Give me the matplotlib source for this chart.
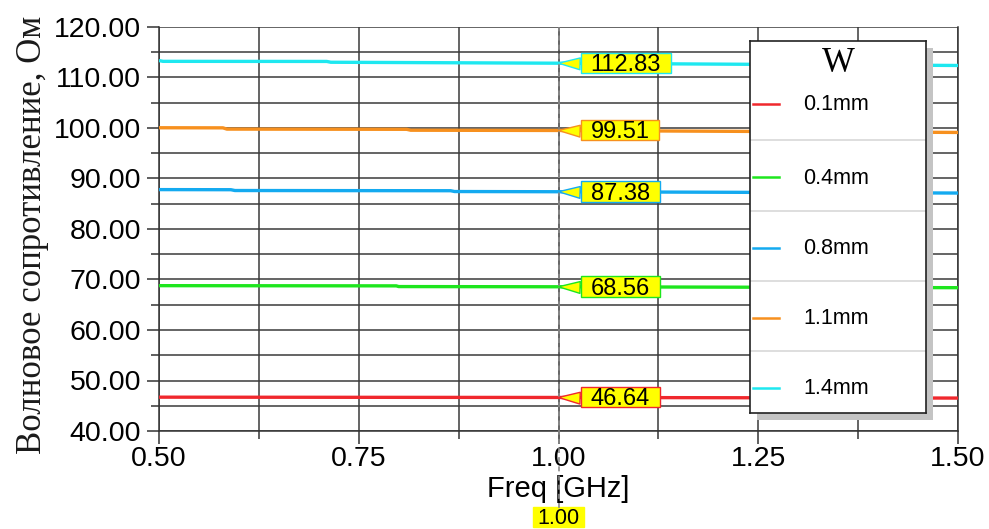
import matplotlib
matplotlib.use("Agg")
import matplotlib.pyplot as plt
from matplotlib.patches import Rectangle
from matplotlib.path import Path
import matplotlib.ticker as mticker

# ---- data ----
labels = ["0.1mm", "0.4mm", "0.8mm", "1.1mm", "1.4mm"]
colors = ["#f0282d", "#1ee61e", "#14aaf0", "#f7901e", "#1ee8f0"]
freq_r = [0.50, 1.00, 1.50]
z_r = [46.70, 46.64, 46.52]
freq_g = [0.50, 0.797, 0.80, 1.00, 1.50]
z_g = [68.78, 68.74, 68.60, 68.56, 68.38]
freq_b = [0.50, 0.59, 0.595, 0.865, 0.87, 1.00, 1.50]
z_b = [87.80, 87.78, 87.62, 87.58, 87.42, 87.38, 87.12]
freq_o = [0.50, 0.58, 0.585, 0.81, 0.815, 1.00, 1.50]
z_o = [100.05, 100.03, 99.78, 99.74, 99.56, 99.51, 99.12]
freq_c = [0.50, 0.505, 0.71, 0.715, 1.00, 1.50]
z_c = [113.35, 113.20, 113.18, 113.02, 112.83, 112.38]
marker_f = 1.00
marker_vals = [46.64, 68.56, 87.38, 99.51, 112.83]

series = [(freq_r, z_r), (freq_g, z_g), (freq_b, z_b), (freq_o, z_o), (freq_c, z_c)]

W, H = 989, 529
fig = plt.figure(figsize=(W / 100, H / 100), dpi=100)
fig.patch.set_facecolor("white")
ax = fig.add_axes([159 / W, 1 - 431 / H, 799 / W, 404 / H])

sans = ["Liberation Sans", "DejaVu Sans"]
serif = ["Liberation Serif", "DejaVu Serif"]


def make_tag(padx):
    def tag_box(x0, y0, width, height, mutation_size):
        em = mutation_size
        xl, xr = x0 - padx * em, x0 + width + padx * em
        yb, yt = y0 + 0.13 * em, y0 + height + 0.06 * em
        return Path([(xl, yb), (xr, yb), (xr, yt), (xl, yt), (xl, yb)], closed=True)
    return tag_box


for (f, z), c in zip(series, colors):
    ax.plot(f, z, color=c, lw=2.4, zorder=3, solid_capstyle="butt")

ax.set_xlim(0.5, 1.5)
ax.set_ylim(40, 120)
ax.xaxis.set_major_locator(mticker.MultipleLocator(0.25))
ax.xaxis.set_minor_locator(mticker.MultipleLocator(0.125))
ax.yaxis.set_major_locator(mticker.MultipleLocator(10))
ax.yaxis.set_minor_locator(mticker.MultipleLocator(5))
ax.xaxis.set_major_formatter(mticker.FormatStrFormatter("%.2f"))
ax.yaxis.set_major_formatter(mticker.FormatStrFormatter("%.2f"))
ax.grid(True, which="both", color="#3a3a3a", lw=1.1)
ax.set_axisbelow(True)
ax.tick_params(which="major", direction="out", length=9, width=1.1, color="#333",
               labelsize=20.5, pad=4)
ax.tick_params(axis="x", which="major", pad=2)
ax.tick_params(which="minor", direction="out", length=6, width=1.1, color="#333")
for lab in ax.get_xticklabels() + ax.get_yticklabels():
    lab.set_fontfamily(sans)
for s in ax.spines.values():
    s.set_color("#333")
    s.set_linewidth(1.1)
ax.spines["top"].set_visible(False)

ax.set_xlabel("Freq [GHz]", fontsize=21, family=sans, labelpad=2)
fig.text(33 / W, 1 - 235 / H, "Волновое сопротивление, Ом", rotation=90,
         ha="center", va="center", fontsize=25, family=serif, color="#1a1a1a")

# marker line
ax.axvline(marker_f, ymin=-0.19, ymax=1, color="#8a8a8a", lw=1.2,
           ls=(0, (3, 2.5)), clip_on=False, zorder=4)

for v, c in zip(marker_vals, colors):
    ax.annotate(f"{v:.2f}", xy=(marker_f, v), xytext=(32, -2), textcoords="offset pixels",
                ha="left", va="center", fontsize=17, family=sans, zorder=6,
                bbox=dict(boxstyle=make_tag(0.42), fc="#ffff00", ec=c, lw=1),
                arrowprops=dict(arrowstyle="wedge,tail_width=0.5", fc="#ffff00", ec=c,
                                lw=1, shrinkA=0, shrinkB=0))

ax.annotate(f"{marker_f:.2f}", xy=(marker_f, 0), xycoords=("data", "axes fraction"),
            xytext=(0, -88), textcoords="offset pixels", ha="center", va="center",
            fontsize=15.5, family=sans, annotation_clip=False,
            bbox=dict(boxstyle=make_tag(0.2), fc="#ffff00", ec="#ffff00", lw=1))

# legend box
lx0, ly0, lw_, lh = 750, 41, 176, 372
fig.patches.append(Rectangle(((lx0 + 7) / W, 1 - (ly0 + lh + 7) / H), lw_ / W, lh / H,
                             transform=fig.transFigure, fc="#c4c4c4", ec="none", zorder=5))
lax = fig.add_axes([lx0 / W, 1 - (ly0 + lh) / H, lw_ / W, lh / H], zorder=10)
lax.set_xlim(0, lw_)
lax.set_ylim(lh, 0)
lax.set_xticks([])
lax.set_yticks([])
for s in lax.spines.values():
    s.set_color("#222")
    s.set_linewidth(1.2)
lax.text(88, 22, "W", ha="center", va="center", fontsize=25, family=serif)
row_centers = [63, 136, 207, 277, 347]
for i, (lab, c) in enumerate(zip(labels, colors)):
    y = row_centers[i]
    lax.plot([3, 29], [y, y], color=c, lw=1.8)
    lax.text(86, y + 1, lab, ha="center", va="center", fontsize=15.5, family=sans)
    if i > 0:
        lax.plot([0, lw_], [y - 37, y - 37], color="#d4d4d4", lw=1.1)

fig.savefig("out.png", dpi=100, facecolor="white")
